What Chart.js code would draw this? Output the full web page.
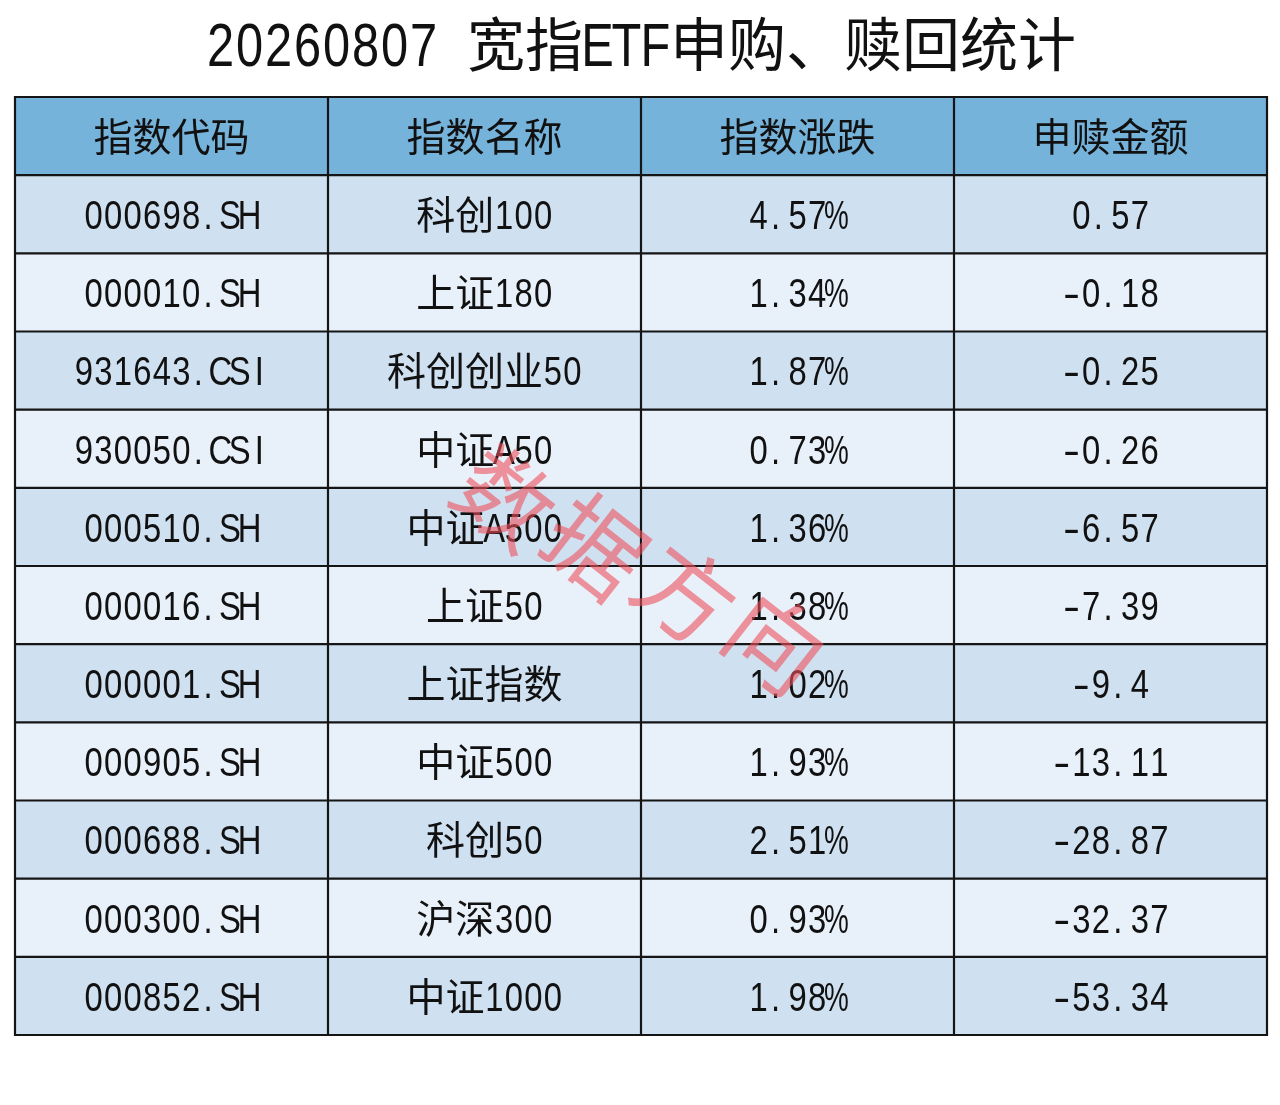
<!DOCTYPE html>
<html>
<head>
<meta charset="utf-8">
<script src="https://cdn.jsdelivr.net/npm/chart.js@4.4.1/dist/chart.umd.min.js"></script>
<style>
html,body{margin:0;padding:0;background:#ffffff;}
#wrap{width:1280px;height:1105px;position:relative;}
</style>
</head>
<body>
<div id="wrap"><canvas id="c" width="1280" height="1105"></canvas></div>
<script>
// ---- data ----
const titleText = '20260807 宽指ETF申购、赎回统计';
const headers = ['指数代码', '指数名称', '指数涨跌', '申赎金额'];
const codes = ['000698.SH','000010.SH','931643.CSI','930050.CSI','000510.SH','000016.SH','000001.SH','000905.SH','000688.SH','000300.SH','000852.SH'];
const names = ['科创100','上证180','科创创业50','中证A50','中证A500','上证50','上证指数','中证500','科创50','沪深300','中证1000'];
const changes = [4.57, 1.34, 1.87, 0.73, 1.36, 1.38, 1.02, 1.93, 2.51, 0.93, 1.98];
const flows = [0.57, -0.18, -0.25, -0.26, -6.57, -7.39, -9.4, -13.11, -28.87, -32.37, -53.34];
const watermark = '数据方向';

// ---- build table rows ----
const rowLabels = ['header'].concat(codes);
const cellText = [headers].concat(codes.map((c, i) => [
  c, names[i], changes[i].toFixed(2) + '%', String(flows[i])
]));

const HEADER_BG = '#76b3da';
const ODD_BG = '#cfe0f1';
const EVEN_BG = '#e8f0fa';
const rowColors = rowLabels.map((_, i) => i === 0 ? HEADER_BG : (i % 2 === 1 ? ODD_BG : EVEN_BG));

const datasets = headers.map((h, c) => ({
  label: h,
  data: rowLabels.map(() => [c, c + 1]),
  backgroundColor: rowColors,
  borderWidth: 0,
  barPercentage: 1,
  categoryPercentage: 1
}));

function isWide(ch) { return ch.charCodeAt(0) > 0x2E80; }
const charScale = { '%': 0.68, '-': 1.25 };

function drawSlotText(ctx, text, cx, cy, em, asciiSize) {
  const half = em / 2;
  const chars = Array.from(text);
  let total = 0;
  chars.forEach(ch => { total += isWide(ch) ? em : half; });
  let x = cx - total / 2;
  chars.forEach(ch => {
    const w = isWide(ch) ? em : half;
    const mid = x + w / 2;
    ctx.save();
    ctx.textAlign = 'center';
    ctx.textBaseline = 'alphabetic';
    if (isWide(ch)) {
      ctx.font = em + 'px "Noto Sans CJK SC"';
      ctx.fillText(ch, mid, cy + 0.38 * em);
    } else {
      ctx.translate(ch === '.' ? mid - w * 0.12 : mid, cy + 0.36 * asciiSize);
      ctx.scale(charScale[ch] || 0.8, 1);
      ctx.font = asciiSize + 'px "Liberation Sans"';
      ctx.fillText(ch, 0, 0);
    }
    ctx.restore();
    x += w;
  });
}

const tablePlugin = {
  id: 'tableText',
  afterDatasetsDraw(chart) {
    const ctx = chart.ctx;
    const xs = chart.scales.x, ys = chart.scales.y;
    const top = ys.getPixelForValue(-0.5), bottom = ys.getPixelForValue(rowLabels.length - 0.5);
    const left = xs.getPixelForValue(0), right = xs.getPixelForValue(headers.length);
    ctx.save();
    ctx.strokeStyle = '#151515';
    ctx.lineWidth = 2.2;
    ctx.lineCap = 'square';
    ctx.beginPath();
    for (let c = 0; c <= headers.length; c++) {
      const x = xs.getPixelForValue(c);
      ctx.moveTo(x, top); ctx.lineTo(x, bottom);
    }
    for (let r = 0; r <= rowLabels.length; r++) {
      const y = ys.getPixelForValue(r - 0.5);
      ctx.moveTo(left, y); ctx.lineTo(right, y);
    }
    ctx.stroke();
    ctx.restore();
  },
  afterDraw(chart) {
    const ctx = chart.ctx;
    const xs = chart.scales.x, ys = chart.scales.y;
    const area = chart.chartArea;
    ctx.save();
    ctx.fillStyle = '#111111';
    // title
    drawSlotText(ctx, titleText, (area.left + area.right) / 2, 44, 58, 61);
    // cells
    cellText.forEach((row, r) => {
      const cy = ys.getPixelForValue(r);
      row.forEach((t, c) => {
        const cx = xs.getPixelForValue(c + 0.5);
        drawSlotText(ctx, t, cx, cy, 39, 41);
      });
    });
    // watermark
    const wcx = xs.getPixelForValue(2), wcy = ys.getPixelForValue(5.55);
    const ang = 28 * Math.PI / 180, step = 102;
    const chars = Array.from(watermark);
    ctx.font = '96px "Noto Sans CJK SC"';
    ctx.textAlign = 'center';
    ctx.textBaseline = 'middle';
    ctx.fillStyle = 'rgba(238,80,92,0.6)';
    chars.forEach((ch, i) => {
      const d = (i - (chars.length - 1) / 2) * step;
      ctx.save();
      ctx.translate(wcx + d * Math.cos(ang), wcy + d * Math.sin(ang));
      ctx.rotate(38 * Math.PI / 180);
      ctx.fillText(ch, 0, 0);
      ctx.restore();
    });
    ctx.restore();
  }
};

new Chart(document.getElementById('c'), {
  type: 'bar',
  data: { labels: rowLabels, datasets },
  options: {
    responsive: false,
    animation: false,
    indexAxis: 'y',
    layout: { padding: { top: 97, left: 15, right: 13, bottom: 70 } },
    plugins: { legend: { display: false }, tooltip: { enabled: false }, title: { display: false } },
    datasets: { bar: { grouped: false } },
    scales: {
      x: { type: 'linear', min: 0, max: 4, display: false },
      y: { type: 'category', display: false }
    }
  },
  plugins: [tablePlugin]
});
</script>
</body>
</html>
